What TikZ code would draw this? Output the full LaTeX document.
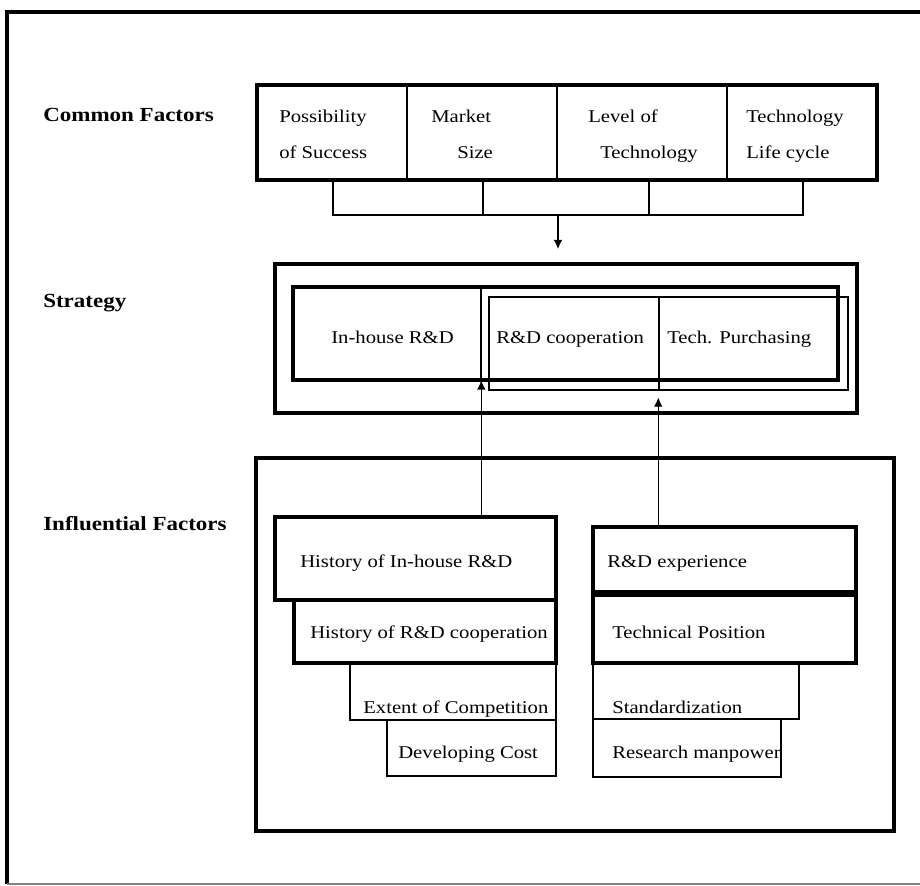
\documentclass[tikz,border=0pt]{standalone}
\usepackage{fontspec}
\setmainfont[FakeStretch=1.15]{Liberation Serif}
\usetikzlibrary{arrows.meta,fit,calc}

\begin{document}
\begin{tikzpicture}[x=0.75pt,y=-0.75pt,
  heavy/.style={draw,line width=2.7pt,inner sep=0pt},
  medium/.style={draw,line width=1.6pt,inner sep=0pt},
  light/.style={draw,line width=1.1pt,inner sep=0pt},
  blank/.style={inner sep=0pt},
  txt/.style={anchor=base west,inner sep=0pt,font=\fontsize{13.5}{16}\selectfont},
  head/.style={anchor=base west,inner sep=0pt,font=\fontsize{15}{18}\selectfont\bfseries},
  arr/.style={line width=1.1pt,-{Latex[length=7pt,width=6.5pt]}},
  link/.style={line width=1.1pt}
]
\useasboundingbox (0,0) rectangle (920,885);

% outer frame (open on the right)
\draw[line width=2.4pt] (920,12) -- (7,12) -- (7,884);
\draw[line width=0.8pt,gray] (7,884) -- (920,884);

% row labels
\node[head] (lcommon) at (43,121) {Common Factors};
\node[head] (lstrat) at (43,307) {Strategy};
\node[head] (linfl) at (43,530) {Influential Factors};

% common factors row
\node[medium,fit={(257,85) (407,180)}] (c1) {};
\node[medium,fit={(407,85) (557,180)}] (c2) {};
\node[medium,fit={(557,85) (727,180)}] (c3) {};
\node[medium,fit={(727,85) (877,180)}] (c4) {};
\node[heavy,fit={(257,85) (877,180)}] (common) {};
\node[txt] (t1a) at (279,122) {Possibility};
\node[txt] (t1b) at (279,158) {of Success};
\node[txt] (t2a) at (431,122) {Market};
\node[txt] (t2b) at (457,158) {Size};
\node[txt] (t3a) at (588,122) {Level of};
\node[txt] (t3b) at (600,158) {Technology};
\node[txt] (t4a) at (746,122) {Technology};
\node[txt] (t4b) at (746,158) {Life cycle};

% bracket joining the four factors
\coordinate (k1) at (333,180);
\coordinate (k2) at (483,180);
\coordinate (k3) at (649,180);
\coordinate (k4) at (803,180);
\coordinate (bar) at (0,215);
\coordinate (join) at (558,215);
\draw[link] (k1) -- (k1 |- bar) -- (k4 |- bar) -- (k4);
\draw[link] (k2) -- (k2 |- bar);
\draw[link] (k3) -- (k3 |- bar);

% strategy block
\node[heavy,fit={(275,264) (857,413)}] (strat) {};
\node[heavy,fit={(293,287) (838,380)}] (inner) {};
\node[blank,fit={(293,287) (481,380)}] (inhouse) {};
\draw[line width=1.7pt] (inhouse.north east) -- (inhouse.south east);
\node[light,fit={(489,297) (659,390)}] (coop) {};
\node[light,fit={(659,297) (848,390)}] (purch) {};
\node[txt] (s1) at (331,343) {In-house R\&D};
\node[txt] (s2) at (496,343) {R\&D cooperation};
\node[txt] (s3) at (667,343) {Tech. Purchasing};

\draw[arr,shorten >=9.75pt] (join) -- (join |- strat.north);

% influential factors block
\node[heavy,fit={(256,458) (894,831)}] (infl) {};

\node[heavy,fit={(275,517) (556,600)}] (hist1) {};
\node[heavy,fit={(294,600) (556,663)}] (hist2) {};
\node[medium,fit={(350,663) (556,720)}] (comp) {};
\node[medium,fit={(387,720) (556,776)}] (cost) {};
\node[txt] (h1) at (300,567) {History of In-house R\&D};
\node[txt] (h2) at (310,638) {History of R\&D cooperation};
\node[txt] (h3) at (363,713) {Extent of Competition};
\node[txt] (h4) at (398,758) {Developing Cost};

\node[heavy,fit={(593,527) (856,592)}] (rdexp) {};
\node[heavy,fit={(593,595) (856,663)}] (techpos) {};
\node[light,fit={(593,663) (799,719)}] (stand) {};
\node[light,fit={(593,719) (781,777)}] (manp) {};
\node[txt] (r1) at (607,567) {R\&D experience};
\node[txt] (r2) at (612,638) {Technical Position};
\node[txt] (r3) at (612,713) {Standardization};
\begin{scope}
  \clip (593,719) rectangle (780,777);
  \node[txt] (r4) at (612,758) {Research manpower};
\end{scope}

% influence arrows
\draw[arr] (hist1.north -| inhouse.south east) -- (inhouse.south east);
\draw[arr,shorten >=5pt] (rdexp.north -| purch.south west) -- (purch.south west);
\end{tikzpicture}
\end{document}
